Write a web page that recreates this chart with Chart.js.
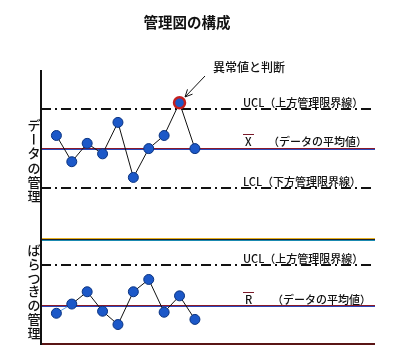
<!DOCTYPE html>
<html>
<head>
<meta charset="utf-8">
<script src="https://cdn.jsdelivr.net/npm/chart.js@4.4.1/dist/chart.umd.min.js"></script>
<style>
  html, body { margin: 0; padding: 0; background: #fff; }
  #wrap { position: relative; width: 400px; height: 361px; }
  #wrap canvas { position: absolute; left: 0; top: 0; }
</style>
</head>
<body>
<div id="wrap">
  <canvas id="xChart" width="400" height="361"></canvas>
  <canvas id="rChart" width="400" height="361"></canvas>
</div>
<script>
// Sample numbers along the x axis
const samples = [1, 2, 3, 4, 5, 6, 7, 8, 9, 10];

// Upper panel: measured data and its limits
const xValues = [11.0, 9.0, 10.4, 9.6, 12.0, 7.8, 10.0, 11.0, 13.5, 10.0];
const xUCL = 13.0;
const xCL = 10.0;
const xLCL = 7.0;
const outlierIndex = 8;

// Lower panel: ranges and their limits
const rValues = [3.3, 4.2, 5.4, 3.5, 2.2, 5.4, 6.6, 3.4, 5.0, 2.7];
const rUCL = 8.0;
const rCL = 4.0;

// Texts
const titleText = '管理図の構成';
const outlierText = '異常値と判断';
const uclText = 'UCL（上方管理限界線）';
const lclText = 'LCL（下方管理限界線）';
const meanText = '（データの平均値）';
const xSideText = 'データの管理';
const rSideText = 'ばらつきの管理';

const FONT = "'Noto Sans CJK JP', 'Noto Sans', sans-serif";
const POINT_FILL = '#1c58c8';
const POINT_EDGE = '#0a3380';

function hLine(ctx, area, y, color, width, dash) {
    const yy = Math.round(y) + (width % 2 ? 0.5 : 0);
    ctx.save();
    ctx.strokeStyle = color;
    ctx.lineWidth = width;
    ctx.setLineDash(dash || []);
    ctx.beginPath();
    ctx.moveTo(area.left, yy);
    ctx.lineTo(area.right, yy);
    ctx.stroke();
    ctx.restore();
}

// two-tone centre line (dark red over blue, like the printed figure)
function centreLine(ctx, area, y) {
    hLine(ctx, area, y - 1, '#8a1a2a', 1);
    hLine(ctx, area, y, '#2a46b8', 1);
}

function vLine(ctx, x, y0, y1) {
    ctx.save();
    ctx.strokeStyle = '#111';
    ctx.lineWidth = 2;
    ctx.beginPath();
    ctx.moveTo(x, y0);
    ctx.lineTo(x, y1);
    ctx.stroke();
    ctx.restore();
}

function verticalText(ctx, text, x, y0, step) {
    ctx.save();
    ctx.font = '500 13px ' + FONT;
    ctx.fillStyle = '#111';
    ctx.textAlign = 'center';
    ctx.textBaseline = 'middle';
    [...text].forEach((ch, i) => {
        const y = y0 + i * step;
        if (ch === 'ー') {
            ctx.save();
            ctx.translate(x, y);
            ctx.rotate(Math.PI / 2);
            ctx.fillText(ch, 0, 0);
            ctx.restore();
        } else {
            ctx.fillText(ch, x, y);
        }
    });
    ctx.restore();
}

function label(ctx, text, x, y, size) {
    ctx.save();
    ctx.font = '500 ' + size + 'px ' + FONT;
    ctx.fillStyle = '#111';
    ctx.textAlign = 'left';
    ctx.textBaseline = 'alphabetic';
    ctx.fillText(text, x, y);
    ctx.restore();
}

function barLabel(ctx, letter, x, y) {
    label(ctx, letter, x, y, 11);
    ctx.save();
    ctx.strokeStyle = '#7a1a2a';
    ctx.lineWidth = 1;
    ctx.beginPath();
    ctx.moveTo(x - 2, Math.round(y - 12) + 0.5);
    ctx.lineTo(x + 9, Math.round(y - 12) + 0.5);
    ctx.stroke();
    ctx.restore();
}

const upperDecor = {
    id: 'upperDecor',
    beforeDatasetsDraw(chart) {
        const { ctx, chartArea: a, scales: { y } } = chart;
        hLine(ctx, a, y.getPixelForValue(xUCL), '#111', 2, [10, 4, 2, 4]);
        hLine(ctx, a, y.getPixelForValue(xLCL), '#111', 2, [10, 4, 2, 4]);
        centreLine(ctx, a, y.getPixelForValue(xCL));
        // separator between the two panels
        hLine(ctx, a, a.bottom - 1, '#e8b020', 1);
        hLine(ctx, a, a.bottom, '#1a2030', 1);
        hLine(ctx, a, a.bottom + 1, '#1a8ab0', 1);
        vLine(ctx, a.left, a.top, a.bottom);
    },
    afterDatasetsDraw(chart) {
        const { ctx, scales: { x, y } } = chart;
        // title
        ctx.save();
        ctx.font = 'bold 14.5px ' + FONT;
        ctx.fillStyle = '#111';
        ctx.textAlign = 'center';
        ctx.textBaseline = 'middle';
        ctx.fillText(titleText, 187, 22);
        ctx.restore();

        label(ctx, outlierText, 213, 72, 12);

        // arrow to the outlier
        const px = x.getPixelForValue(samples[outlierIndex]);
        const py = y.getPixelForValue(xValues[outlierIndex]);
        const sx = 205, sy = 76;
        const ang = Math.atan2(py - sy, px - sx);
        const tx = px - Math.cos(ang) * 8, ty = py - Math.sin(ang) * 8;
        ctx.save();
        ctx.strokeStyle = '#111';
        ctx.lineWidth = 1;
        ctx.beginPath();
        ctx.moveTo(sx, sy);
        ctx.lineTo(tx, ty);
        ctx.moveTo(tx - Math.cos(ang - 0.45) * 8, ty - Math.sin(ang - 0.45) * 8);
        ctx.lineTo(tx, ty);
        ctx.lineTo(tx - Math.cos(ang + 0.45) * 8, ty - Math.sin(ang + 0.45) * 8);
        ctx.stroke();
        ctx.restore();

        label(ctx, uclText, 243, y.getPixelForValue(xUCL) - 2, 11);
        barLabel(ctx, 'X', 245, y.getPixelForValue(xCL) - 3);
        label(ctx, meanText, 268, y.getPixelForValue(xCL) - 3, 11);
        label(ctx, lclText, 243, y.getPixelForValue(xLCL) - 2, 11);

        verticalText(ctx, xSideText, 34, 125, 14.2);
    }
};

const lowerDecor = {
    id: 'lowerDecor',
    beforeDatasetsDraw(chart) {
        const { ctx, chartArea: a, scales: { y } } = chart;
        hLine(ctx, a, y.getPixelForValue(rUCL), '#111', 2, [10, 4, 2, 4]);
        centreLine(ctx, a, y.getPixelForValue(rCL));
        hLine(ctx, a, a.bottom, '#5a1515', 2);
        vLine(ctx, a.left, a.top, a.bottom + 1);
    },
    afterDatasetsDraw(chart) {
        const { ctx, scales: { y } } = chart;
        label(ctx, uclText, 243, y.getPixelForValue(rUCL) - 2, 11);
        barLabel(ctx, 'R', 245, y.getPixelForValue(rCL) - 2);
        label(ctx, meanText, 272, y.getPixelForValue(rCL) - 2, 11);
        verticalText(ctx, rSideText, 34, 250, 13.8);
    }
};

function pointsOf(values) {
    return values.map((v, i) => ({ x: samples[i], y: v }));
}

function baseOptions(padding, yMin, yMax) {
    return {
        responsive: false,
        animation: false,
        layout: { padding: padding },
        plugins: { legend: { display: false }, tooltip: { enabled: false } },
        scales: {
            x: { type: 'linear', min: 0, max: 21.7, display: false },
            y: { type: 'linear', min: yMin, max: yMax, display: false }
        }
    };
}

new Chart(document.getElementById('xChart').getContext('2d'), {
    type: 'line',
    data: {
        datasets: [{
            data: pointsOf(xValues),
            borderColor: '#111',
            borderWidth: 1,
            pointRadius: xValues.map((v, i) => i === outlierIndex ? 5.5 : 5),
            pointBackgroundColor: POINT_FILL,
            pointBorderColor: xValues.map((v, i) => i === outlierIndex ? '#c42020' : POINT_EDGE),
            pointBorderWidth: xValues.map((v, i) => i === outlierIndex ? 2.5 : 1),
            tension: 0
        }]
    },
    options: baseOptions({ left: 41, right: 25, top: 70, bottom: 122 }, 3.1, 16.0),
    plugins: [upperDecor]
});

new Chart(document.getElementById('rChart').getContext('2d'), {
    type: 'line',
    data: {
        datasets: [{
            data: pointsOf(rValues),
            borderColor: '#111',
            borderWidth: 1,
            segment: {
                borderColor: c => c.p0DataIndex === 0 ? '#5aa0e0' : '#111'
            },
            pointRadius: 5,
            pointBackgroundColor: POINT_FILL,
            pointBorderColor: POINT_EDGE,
            pointBorderWidth: 1,
            tension: 0
        }]
    },
    options: baseOptions({ left: 41, right: 25, top: 239, bottom: 17 }, 0.3, 10.55),
    plugins: [lowerDecor]
});
</script>
</body>
</html>
